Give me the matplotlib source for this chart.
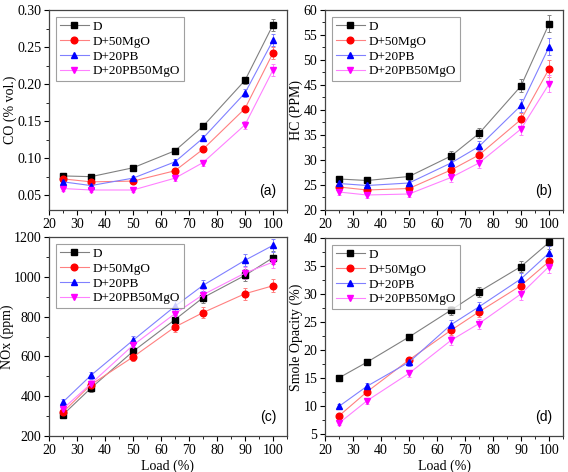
import matplotlib
matplotlib.use("Agg")
import matplotlib.pyplot as plt
from matplotlib.ticker import MultipleLocator, FormatStrFormatter

plt.rcParams['font.family'] = ['Liberation Serif', 'DejaVu Serif']
plt.rcParams['font.size'] = 10

load = [25, 35, 50, 65, 75, 90, 100]
series_names = ["D", "D+50MgO", "D+20PB", "D+20PB50MgO"]

co_D = [0.076, 0.075, 0.087, 0.110, 0.143, 0.205, 0.280]
co_M = [0.072, 0.068, 0.069, 0.083, 0.112, 0.167, 0.242]
co_P = [0.068, 0.063, 0.073, 0.095, 0.127, 0.188, 0.259]
co_PM = [0.059, 0.057, 0.057, 0.073, 0.094, 0.145, 0.219]
co_err = [0.003, 0.003, 0.003, 0.004, 0.004, 0.005, 0.008]

hc_D = [26.2, 25.9, 26.7, 30.8, 35.3, 44.8, 57.2]
hc_M = [24.6, 24.0, 24.3, 28.0, 31.0, 38.1, 48.2]
hc_P = [25.3, 24.9, 25.4, 29.4, 32.7, 40.9, 52.6]
hc_PM = [23.6, 23.0, 23.2, 26.5, 29.4, 36.2, 45.2]
hc_err = [0.6, 0.6, 0.7, 0.9, 1.0, 1.3, 1.7]

nox_D = [307, 441, 625, 785, 895, 1007, 1096]
nox_M = [320, 458, 597, 748, 820, 915, 955]
nox_P = [371, 505, 681, 852, 957, 1083, 1158]
nox_PM = [337, 463, 656, 815, 910, 1019, 1074]
nox_err = [15, 18, 22, 25, 28, 30, 32]

sm_D = [15.0, 17.8, 22.3, 27.1, 30.4, 34.9, 39.2]
sm_M = [8.2, 12.5, 18.2, 23.5, 26.8, 31.5, 35.8]
sm_P = [9.9, 13.5, 17.8, 24.5, 27.7, 32.7, 37.3]
sm_PM = [6.9, 10.9, 15.8, 21.7, 24.7, 30.0, 34.9]
sm_err = [0.4, 0.5, 0.6, 0.8, 0.9, 1.0, 1.2]

styles = [
    dict(marker='s', color='black', line='#808080', ms=4.2),
    dict(marker='o', color='#ff0000', line='#ff8080', ms=4.8),
    dict(marker='^', color='#0000ff', line='#8080ff', ms=5.0),
    dict(marker='v', color='#ff00ff', line='#ff80ff', ms=5.0),
]

fig = plt.figure(figsize=(5.68, 4.72), dpi=100)
W, H = 568, 472

def make_ax(l, t, r, b):
    return fig.add_axes([l / W, 1 - b / H, (r - l) / W, (b - t) / H])

panels = [
    (make_ax(49, 10, 287, 210), [co_D, co_M, co_P, co_PM], co_err, (0.03, 0.30), 0.05, 0.025, "CO (% vol.)", "(a)", False),
    (make_ax(325, 10, 563, 210), [hc_D, hc_M, hc_P, hc_PM], hc_err, (20, 60), 5, 2.5, "HC (PPM)", "(b)", False),
    (make_ax(49, 237, 287, 436), [nox_D, nox_M, nox_P, nox_PM], nox_err, (200, 1200), 200, 100, "NOx (ppm)", "(c)", True),
    (make_ax(325, 238, 563, 436), [sm_D, sm_M, sm_P, sm_PM], sm_err, (4.6, 40), 5, 2.5, "Smole Opacity (%)", "(d)", True),
]

for ax, data, err, ylim, major, minor, ylabel, tag, show_x in panels:
    handles = []
    for name, vals, st in zip(series_names, data, styles):
        ax.errorbar(load, vals, yerr=err, fmt='none', ecolor=st['line'],
                    elinewidth=0.7, capsize=1.5, capthick=0.7, zorder=2)
        h, = ax.plot(load, vals, color=st['line'], lw=0.8, marker=st['marker'],
                     mfc=st['color'], mec=st['color'], ms=st['ms'], label=name, zorder=3)
        handles.append(h)
    ax.set_xlim(20, 105)
    ax.set_ylim(*ylim)
    ax.xaxis.set_major_locator(MultipleLocator(10))
    ax.xaxis.set_minor_locator(MultipleLocator(5))
    ax.yaxis.set_major_locator(MultipleLocator(major))
    ax.yaxis.set_minor_locator(MultipleLocator(minor))
    ax.tick_params(which='major', direction='out', length=3.5, width=0.8, labelsize=10, pad=2)
    ax.tick_params(which='minor', direction='out', length=2, width=0.6)
    if ylabel.startswith("CO"):
        ax.yaxis.set_major_formatter(FormatStrFormatter('%.2f'))
    for sp in ax.spines.values():
        sp.set_color('#444444')
        sp.set_linewidth(0.9)
    ax.set_ylabel(ylabel, fontsize=10, labelpad=0)
    if show_x:
        ax.set_xlabel("Load (%)", fontsize=10, labelpad=2)
    ax.text(0.955, 0.06, tag, transform=ax.transAxes, ha='right', va='bottom',
            fontsize=10, family=['Liberation Sans', 'DejaVu Sans'])
    leg = ax.legend(handles=handles, loc='upper left', fontsize=9.5,
                    frameon=True, fancybox=False, edgecolor='#888888',
                    borderpad=0.3, labelspacing=0.2, handlelength=2.2,
                    handletextpad=0.3, borderaxespad=0.5)
    leg.get_frame().set_linewidth(0.8)

fig.savefig("out.png", dpi=100)
